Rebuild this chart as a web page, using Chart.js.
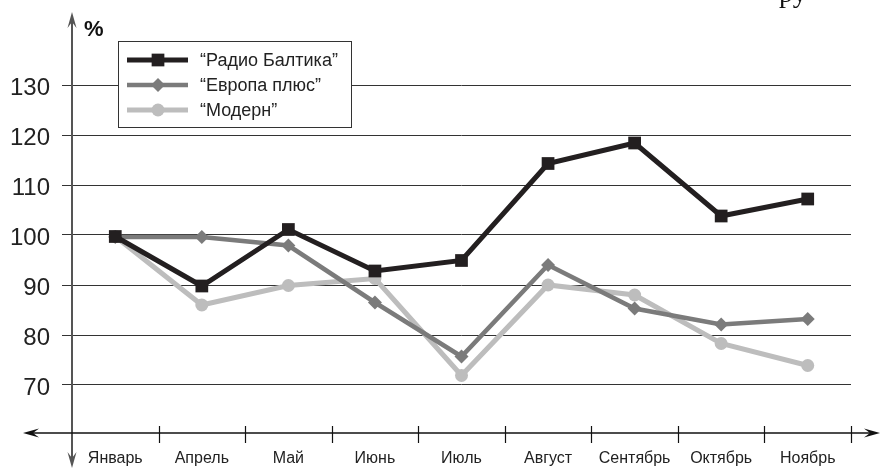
<!DOCTYPE html>
<html>
<head>
<meta charset="utf-8">
<script src="https://cdn.jsdelivr.net/npm/chart.js@4.4.1/dist/chart.umd.min.js"></script>
<style>
  html, body { margin: 0; padding: 0; background: #fff; }
  #wrap { width: 880px; height: 468px; }
</style>
</head>
<body>
<div id="wrap"><canvas id="chart" width="880" height="468"></canvas></div>
<script>
// data
const months = ["Январь", "Апрель", "Май", "Июнь", "Июль", "Август", "Сентябрь", "Октябрь", "Ноябрь"];
const radioBaltika = [99.7, 89.8, 101.1, 92.8, 94.9, 114.3, 118.4, 103.8, 107.2];
const evropaPlus = [99.6, 99.6, 97.9, 86.5, 75.7, 94.0, 85.3, 82.1, 83.2];
const modern = [99.7, 86.0, 89.9, 91.3, 71.9, 90.0, 88.0, 78.3, 73.9];
const yTicks = [70, 80, 90, 100, 110, 120, 130];
const seriesNames = ["“Радио Балтика”", "“Европа плюс”", "“Модерн”"];

const FONT = "'Liberation Sans', Arial, sans-serif";

//small arrowhead with a notch at the back
function arrow(ctx, tx, ty, dx, dy) {
    const len = 16, hw = 4.5, notch = 6;
    const nx = -dy, ny = dx;
    ctx.beginPath();
    ctx.moveTo(tx, ty);
    ctx.lineTo(tx - dx * len + nx * hw, ty - dy * len + ny * hw);
    ctx.lineTo(tx - dx * (len - notch), ty - dy * (len - notch));
    ctx.lineTo(tx - dx * len - nx * hw, ty - dy * len - ny * hw);
    ctx.closePath();
    ctx.fill();
}

const axesPlugin = {
    id: "axes",
    beforeDatasetsDraw(chart) {
        const { ctx, scales: { x, y } } = chart;
        const ax = x.left, ay = y.bottom;
        ctx.save();

        //vertical axis
        ctx.strokeStyle = "#555";
        ctx.fillStyle = "#555";
        ctx.lineWidth = 2;
        ctx.beginPath();
        ctx.moveTo(ax, 18);
        ctx.lineTo(ax, 462);
        ctx.stroke();
        arrow(ctx, ax, 12, 0, -1);
        arrow(ctx, ax, 468, 0, 1);

        //horizontal axis
        ctx.strokeStyle = "#111";
        ctx.fillStyle = "#111";
        ctx.lineWidth = 1.5;
        ctx.beginPath();
        ctx.moveTo(28, ay);
        ctx.lineTo(874, ay);
        ctx.stroke();
        arrow(ctx, 23, ay, -1, 0);
        arrow(ctx, 880, ay, 1, 0);

        //tick marks between the months
        ctx.lineWidth = 1.2;
        for (let i = 1; i <= months.length; i++) {
            const px = Math.round(x.getPixelForValue(i - 0.5)) + 0.5;
            ctx.beginPath();
            ctx.moveTo(px, ay - 7);
            ctx.lineTo(px, ay + 10);
            ctx.stroke();
        }

        //unit label
        ctx.fillStyle = "#111";
        ctx.font = "bold 22px " + FONT;
        ctx.textBaseline = "middle";
        ctx.textAlign = "left";
        ctx.fillText("%", 84, 30);

        //clipped text from the page above
        ctx.font = "28px 'Liberation Serif', serif";
        ctx.textBaseline = "alphabetic";
        ctx.fillText("ру", 779, 2);
        ctx.restore();
    },
    afterDatasetsDraw(chart) {
        const { ctx } = chart;
        ctx.save();
        ctx.fillStyle = "#fff";
        ctx.fillRect(118, 41, 233, 86);
        ctx.strokeStyle = "#333";
        ctx.lineWidth = 1;
        ctx.strokeRect(118.5, 41.5, 233, 86);

        chart.data.datasets.forEach((ds, i) => {
            const ry = 60 + i * 25;
            ctx.strokeStyle = ds.borderColor;
            ctx.fillStyle = ds.borderColor;
            ctx.lineWidth = ds.borderWidth;
            ctx.beginPath();
            ctx.moveTo(127, ry);
            ctx.lineTo(188, ry);
            ctx.stroke();
            Chart.helpers.drawPoint(ctx, {
                pointStyle: ds.pointStyle,
                radius: ds.pointRadius,
                rotation: 0,
                borderWidth: 0
            }, 158, ry);

            ctx.fillStyle = "#222";
            ctx.font = "18px " + FONT;
            ctx.textBaseline = "middle";
            ctx.textAlign = "left";
            ctx.fillText(ds.label, 200, ry + 1);
        });
        ctx.restore();
    }
};

const ctx = document.getElementById("chart").getContext("2d");

const chart = new Chart(ctx, {
    type: "line",
    data: {
        labels: months,
        datasets: [
            {
                label: seriesNames[0],
                data: radioBaltika,
                borderColor: "#231f20",
                backgroundColor: "#231f20",
                borderWidth: 5,
                pointStyle: "rect",
                pointRadius: 9,
                pointBorderWidth: 0,
                tension: 0,
            },
            {
                label: seriesNames[1],
                data: evropaPlus,
                borderColor: "#7b7b7b",
                backgroundColor: "#7b7b7b",
                borderWidth: 4.5,
                pointStyle: "rectRot",
                pointRadius: 7,
                pointBorderWidth: 0,
                tension: 0,
            },
            {
                label: seriesNames[2],
                data: modern,
                borderColor: "#bdbdbd",
                backgroundColor: "#bdbdbd",
                borderWidth: 5,
                pointStyle: "circle",
                pointRadius: 6.5,
                pointBorderWidth: 0,
                tension: 0,
            },
        ],
    },
    options: {
        responsive: false,
        animation: false,
        devicePixelRatio: 1,
        layout: {
            padding: { top: 35, right: 29, left: 0, bottom: 0 },
        },
        plugins: {
            legend: { display: false },
            tooltip: { enabled: false },
        },
        scales: {
            x: {
                offset: true,
                grid: { display: false },
                border: { display: false },
                ticks: {
                    autoSkip: false,
                    maxRotation: 0,
                    padding: 8,
                    color: "#222",
                    font: { family: FONT, size: 16 },
                },
                afterFit: (scale) => { scale.height = 35; },
            },
            y: {
                min: 60.4,
                max: 140,
                afterBuildTicks: (scale) => {
                    scale.ticks = yTicks.map((v) => ({ value: v }));
                },
                grid: {
                    color: "#333",
                    lineWidth: 1,
                    drawTicks: true,
                    tickLength: 10,
                },
                border: { display: false },
                ticks: {
                    padding: 12,
                    labelOffset: 3,
                    color: "#222",
                    font: { family: FONT, size: 24 },
                },
                afterFit: (scale) => { scale.width = 72; },
            },
        },
    },
    plugins: [axesPlugin],
});
</script>
</body>
</html>
